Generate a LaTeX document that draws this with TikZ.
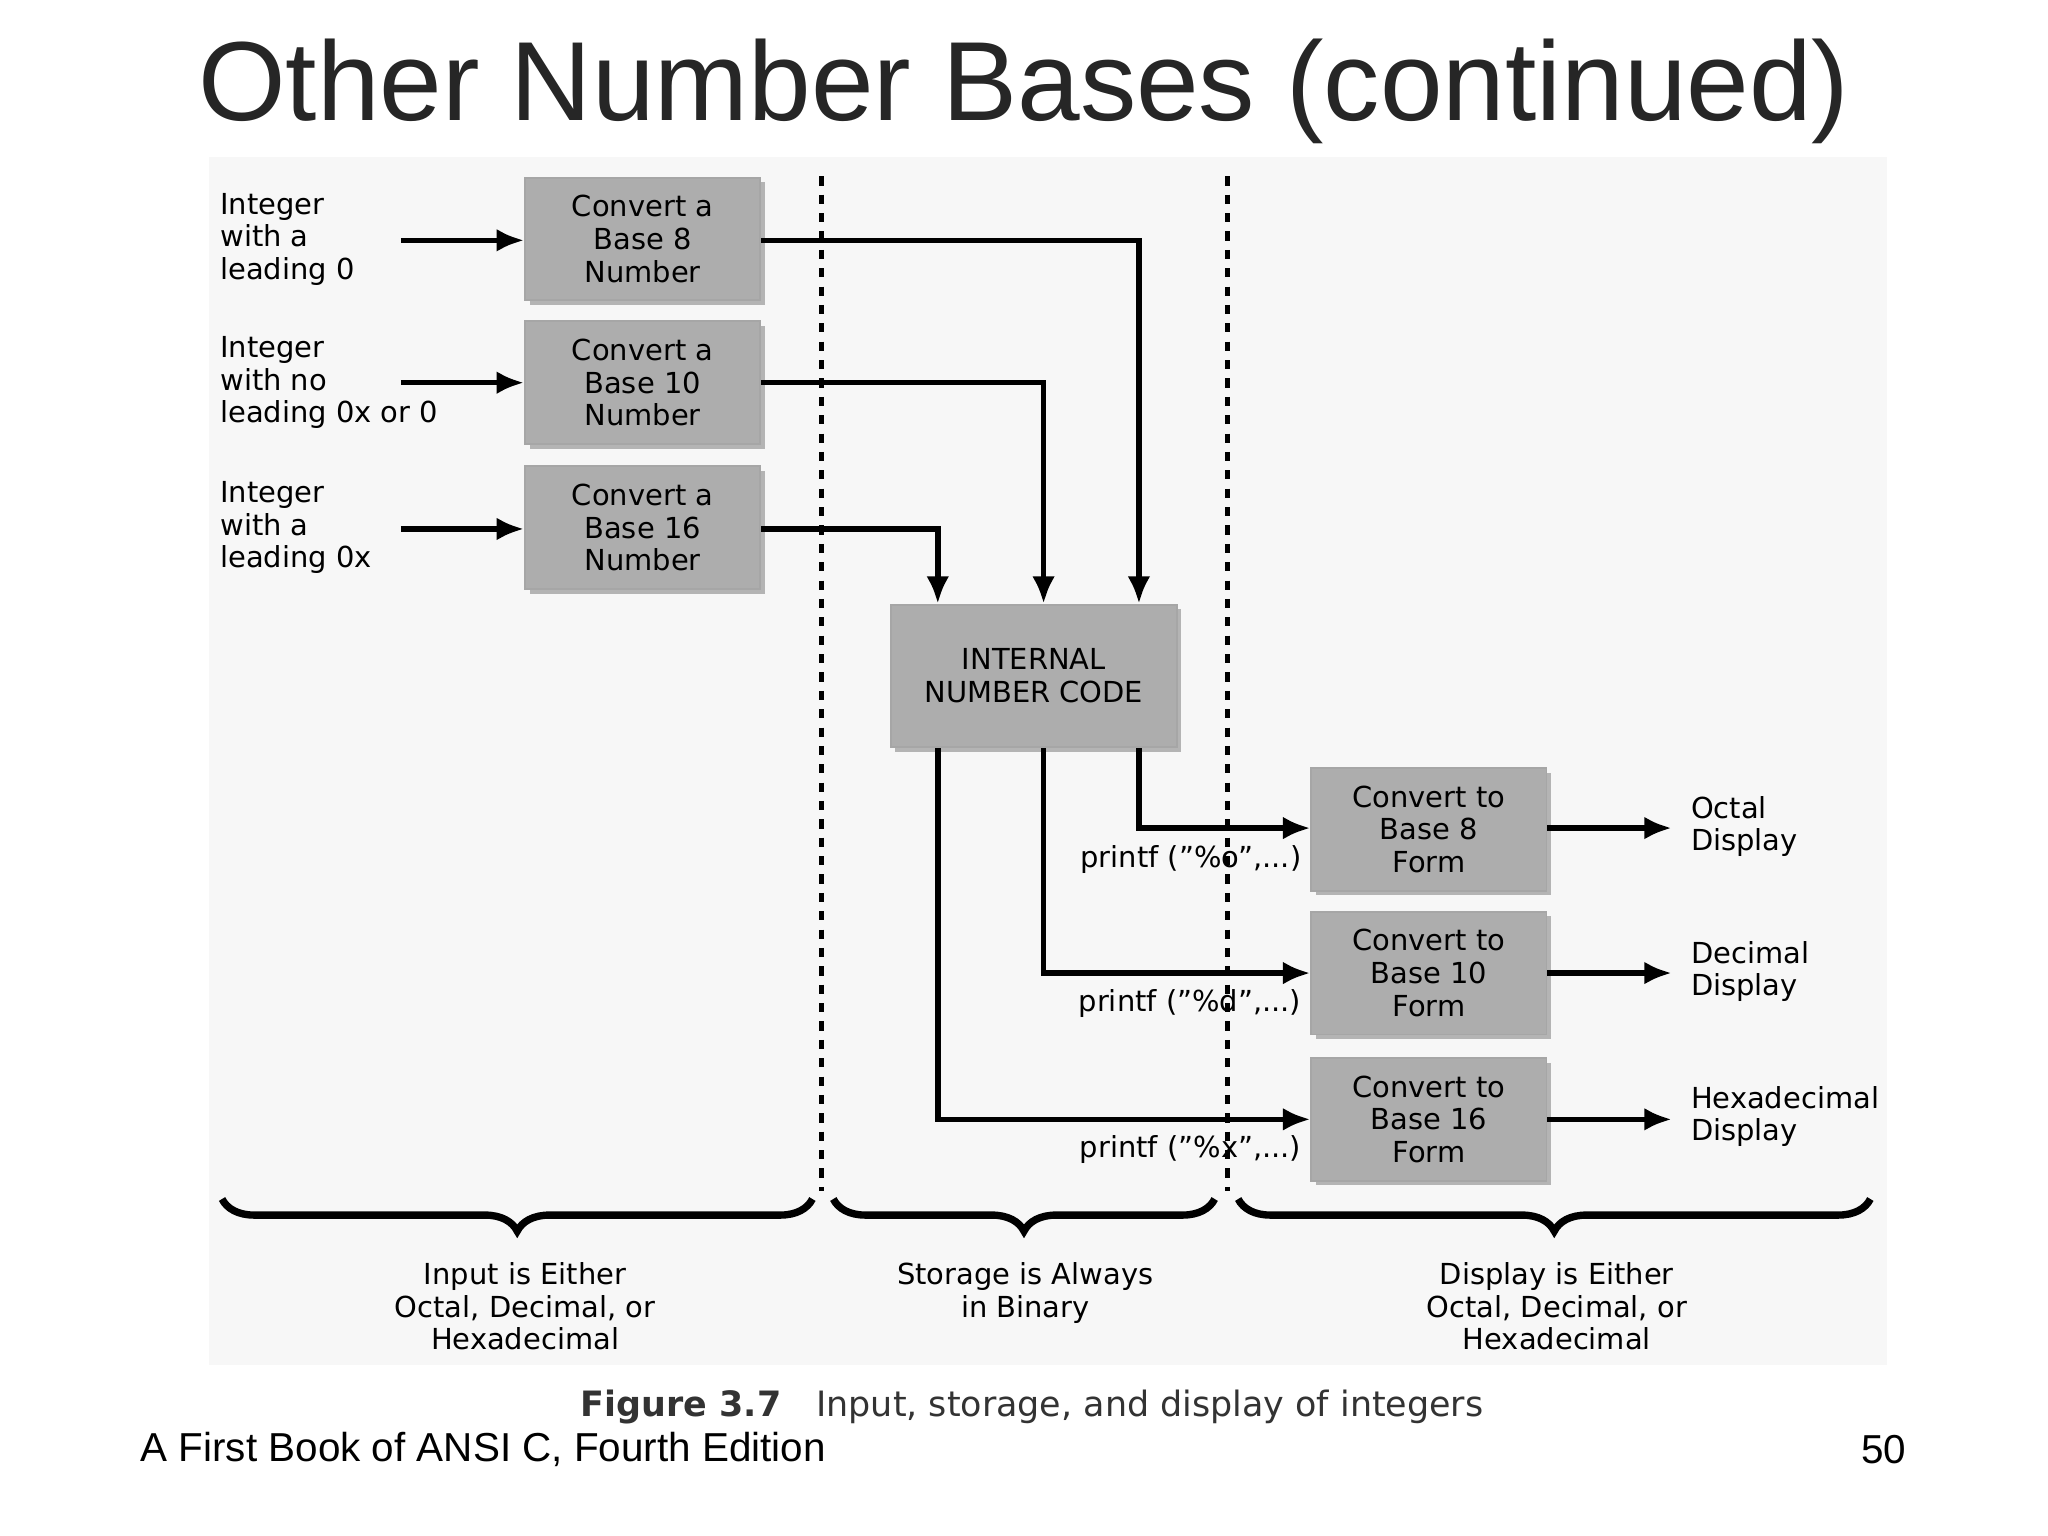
\documentclass[tikz,border=0pt]{standalone}
\usepackage{fontspec}
\setmainfont{DejaVu Sans}
\newfontfamily\arialf{Liberation Sans}
\usetikzlibrary{arrows.meta,decorations.pathreplacing,shadows}
\begin{document}
\begin{tikzpicture}[x=0.01cm,y=-0.01cm,
  box/.style={draw=gray!70,fill=black!32,minimum width=180*0.01cm,minimum height=94*0.01cm,align=center,inner sep=0pt,
     drop shadow={shadow xshift=1pt,shadow yshift=-1pt,fill=black!55},font=\fontsize{6.3}{7.1}\selectfont},
  lab/.style={align=left,anchor=north west,inner sep=0pt,font=\fontsize{6.3}{7.1}\selectfont},
  pf/.style={anchor=east,inner sep=0pt,font=\fontsize{6.3}{7.1}\selectfont},
  arr/.style={line width=1.2pt,-{Latex[length=6pt,width=5pt]}},
  br/.style={line width=1.6pt,decorate,decoration={brace,mirror,amplitude=7pt}},
  dl/.style={line width=1pt,dash pattern=on 2pt off 2pt}]
\useasboundingbox (0,0) rectangle (1568,1176);
\fill[black!3] (160,120) rectangle (1445,1045);
\node[font=\arialf\fontsize{24.5}{28}\selectfont,text=black!85] (title) at (784,70) {Other Number Bases (continued)};
% dotted
\coordinate (d1a) at (629,135); \coordinate (d1b) at (629,912);
\coordinate (d2a) at (940,135); \coordinate (d2b) at (940,912);
\draw[dl] (d1a) -- (d1b); \draw[dl] (d2a) -- (d2b);
% input boxes
\node[box] (b8) at (492,183) {Convert a\\Base 8\\Number};
\node[box] (b10) at (492,293) {Convert a\\Base 10\\Number};
\node[box] (b16) at (492,404) {Convert a\\Base 16\\Number};
\node[lab] (l1) at (168,147) {Integer\\with a\\leading 0};
\node[lab] (l2) at (168,257) {Integer\\with no\\leading 0x or 0};
\node[lab] (l3) at (168,368) {Integer\\with a\\leading 0x};
\coordinate (s1) at (307,184); \coordinate (s2) at (307,293); \coordinate (s3) at (307,405);
\draw[arr] (s1) -- (b8.west|-s1);
\draw[arr] (s2) -- (b10.west|-s2);
\draw[arr] (s3) -- (b16.west|-s3);
\node[box,minimum width=219*0.01cm,minimum height=109*0.01cm] (int) at (791.5,517.5) {INTERNAL\\NUMBER CODE};
\draw[arr] (b8.east|-s1) -| (int.north-|872,0);
\draw[arr] (b10.east|-s2) -| (int.north-|799,0);
\draw[arr] (b16.east|-s3) -| (int.north-|718,0);
% output boxes
\node[box] (o8) at (1094,635) {Convert to\\Base 8\\Form};
\node[box] (o10) at (1094,745) {Convert to\\Base 10\\Form};
\node[box] (o16) at (1094,857) {Convert to\\Base 16\\Form};
\draw[arr] (int.south-|872,0) |- (o8.west|-0,634);
\draw[arr] (int.south-|799,0) |- (o10.west|-0,745);
\draw[arr] (int.south-|718,0) |- (o16.west|-0,857);
\node[pf] (p1) at (997,658) {printf ("\%o",...)};
\node[pf] (p2) at (997,768) {printf ("\%d",...)};
\node[pf] (p3) at (997,880) {printf ("\%x",...)};
\coordinate (e1) at (1280,634); \coordinate (e2) at (1280,745); \coordinate (e3) at (1280,857);
\draw[arr] (o8.east|-e1) -- (e1);
\draw[arr] (o10.east|-e2) -- (e2);
\draw[arr] (o16.east|-e3) -- (e3);
\node[lab] (r1) at (1294,609) {Octal\\Display};
\node[lab] (r2) at (1294,720) {Decimal\\Display};
\node[lab] (r3) at (1294,831) {Hexadecimal\\Display};
% braces
\coordinate (ba) at (170,918); \coordinate (bb) at (622,918);
\coordinate (bc) at (638,918); \coordinate (bd) at (930,918);
\coordinate (be) at (948,918); \coordinate (bf) at (1432,918);
\draw[br] (ba) -- (bb); \draw[br] (bc) -- (bd); \draw[br] (be) -- (bf);
\node[align=center,anchor=north,inner sep=0pt,font=\fontsize{6.3}{7.1}\selectfont] (t1) at (402,966) {Input is Either\\Octal, Decimal, or\\Hexadecimal};
\node[align=center,anchor=north,inner sep=0pt,font=\fontsize{6.3}{7.1}\selectfont] (t2) at (785,966) {Storage is Always\\in Binary};
\node[align=center,anchor=north,inner sep=0pt,font=\fontsize{6.3}{7.1}\selectfont] (t3) at (1192,966) {Display is Either\\Octal, Decimal, or\\Hexadecimal};
\node[anchor=west,inner sep=0pt,font=\fontsize{7.6}{9}\selectfont,text=black!80] (cap) at (444,1077) {\textbf{Figure 3.7}\quad Input, storage, and display of integers};
\node[anchor=west,inner sep=0pt,font=\arialf\fontsize{8.8}{10}\selectfont] (ft) at (107,1110) {A First Book of ANSI C, Fourth Edition};
\node[anchor=east,inner sep=0pt,font=\arialf\fontsize{8.8}{10}\selectfont] (pg) at (1460,1110) {50};
\end{tikzpicture}
\end{document}
